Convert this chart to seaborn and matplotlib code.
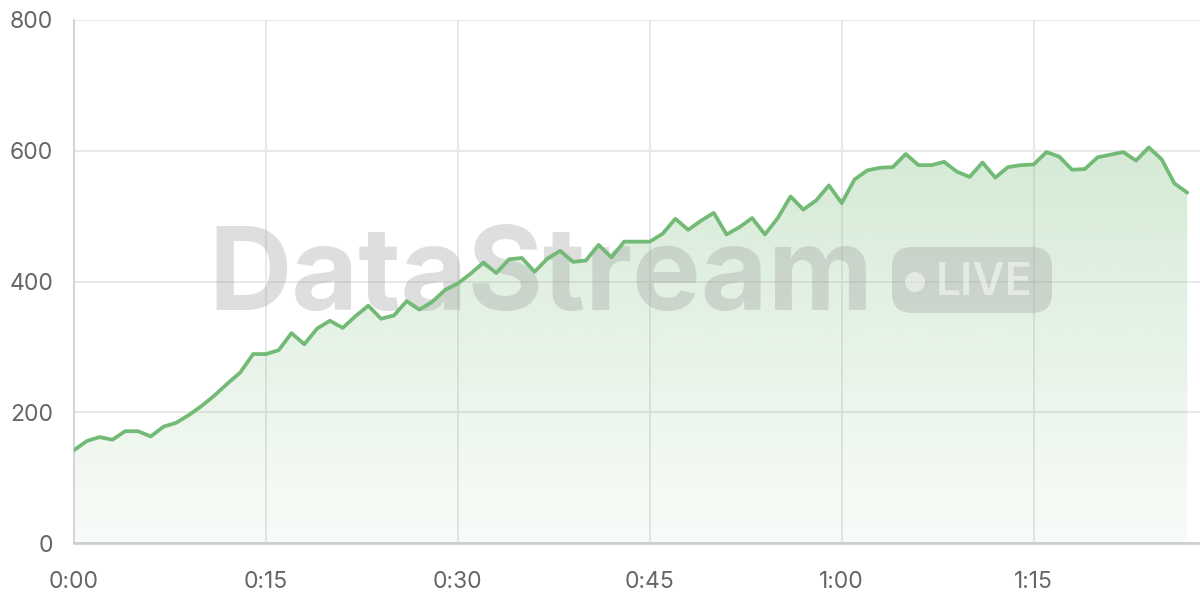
import numpy as np
import matplotlib
matplotlib.use("Agg")
import matplotlib.pyplot as plt
import seaborn as sns
from matplotlib.patches import FancyBboxPatch, Circle

# data: one value per minute
values = [142, 156, 162, 158, 171, 171, 163, 178, 184, 196,
          210, 226, 244, 261, 289, 289, 295, 321, 304, 328,
          340, 329, 347, 363, 343, 348, 370, 357, 369, 387,
          397, 412, 429, 413, 434, 436, 415, 435, 447, 430,
          432, 456, 437, 461, 461, 461, 473, 496, 479, 493,
          505, 472, 483, 497, 472, 497, 530, 510, 524, 547,
          520, 556, 570, 574, 575, 595, 578, 578, 583, 568,
          560, 582, 559, 575, 578, 579, 598, 591, 571, 572,
          590, 594, 598, 585, 605, 587, 550, 536]
minutes = np.arange(len(values))
tick_pos = [0, 15, 30, 45, 60, 75]
tick_labels = ["0:00", "0:15", "0:30", "0:45", "1:00", "1:15"]
y_ticks = [0, 200, 400, 600, 800]

GREEN = "#72ba75"
GRID = "#e6e6e6"

sns.set_theme(style="white")
plt.rcParams["font.family"] = ["Inter", "DejaVu Sans"]

fig = plt.figure(figsize=(12, 6), dpi=100)
ax = fig.add_axes([74 / 1200, 57 / 600, 1126 / 1200, 523 / 600])

# gradient fill under the line
fill = ax.fill_between(minutes, values, 0, color="none", lw=0, zorder=1)
rgb = matplotlib.colors.to_rgb(GREEN)
grad = np.zeros((256, 1, 4))
grad[:, 0, :3] = rgb
grad[:, 0, 3] = np.linspace(0.30, 0.05, 256)
img = ax.imshow(grad, aspect="auto", extent=[0, minutes[-1], 0, max(values)],
                origin="upper", zorder=1)
img.set_clip_path(fill.get_paths()[0], transform=ax.transData)

sns.lineplot(x=minutes, y=values, ax=ax, color=GREEN, lw=2.7, zorder=4)

# watermark
wm = dict(transform=fig.dpi_scale_trans, zorder=3)
ax.text(2.08, 2.90, "DataStream", fontsize=83, fontweight="bold",
        color="#a0a0a0", alpha=0.34, ha="left", va="baseline", **wm)
ax.add_patch(FancyBboxPatch((8.92 + 0.2, 2.87 + 0.2), 1.60 - 0.4, 0.66 - 0.4,
                            boxstyle="round,pad=0.2", fc="#a0a0a0", ec="none",
                            alpha=0.34, clip_on=False, **wm))
ax.add_patch(Circle((9.15, 3.18), 0.10, fc="white", ec="none", alpha=0.5,
                    clip_on=False, **wm))
ax.text(9.36, 3.05, "LIVE", fontsize=32, fontweight="semibold",
        color="white", alpha=0.5, ha="left", va="baseline", **wm)

ax.set_xlim(0, 88)
ax.set_ylim(0, 800)
ax.set_xticks(tick_pos)
ax.set_xticklabels(tick_labels)
ax.set_yticks(y_ticks)
ax.grid(True, color=GRID, lw=1.3, zorder=0)
ax.set_axisbelow(True)
ax.tick_params(axis="both", length=11, width=1.3, color=GRID,
               labelsize=16.5, labelcolor="#666666")
ax.tick_params(axis="x", pad=9)
ax.tick_params(axis="y", pad=4)
for side in ("top", "right"):
    ax.spines[side].set_visible(False)
ax.spines["left"].set_color("#d4d4d4")
ax.spines["left"].set_linewidth(1.4)
ax.spines["bottom"].set_color("#cccccc")
ax.spines["bottom"].set_linewidth(1.8)
ax.set_xlabel("")
ax.set_ylabel("")

fig.savefig("out.png", dpi=100)
